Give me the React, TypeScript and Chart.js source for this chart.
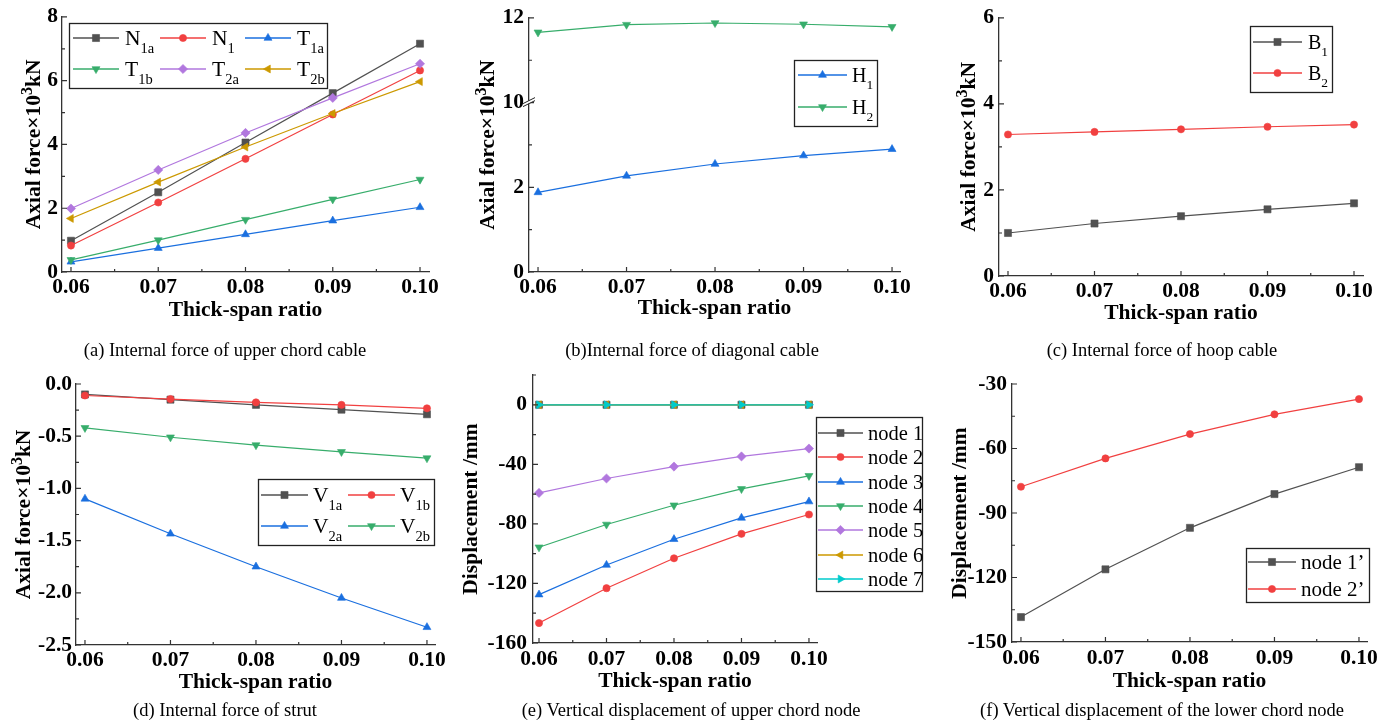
import React, { useEffect, useRef } from 'react';
import { Chart, registerables } from 'chart.js';
import { drawPoint } from 'chart.js/helpers';

Chart.register(...registerables);

const FONT = '"Liberation Serif", "Times New Roman", Times, serif';
const AXIS_COLOR = '#333333';
const W_PAGE = 1393;
const H_PAGE = 725;
const TITLE_FS = 21.5;
const TICK_FS = 21.5;

// ---------- data ----------
const thickSpanRatio = [0.06, 0.07, 0.08, 0.09, 0.1];
const xTickValues = [0.06, 0.07, 0.08, 0.09, 0.1];
const xTickLabels = ['0.06', '0.07', '0.08', '0.09', '0.10'];
const xMinorTicks = [0.065, 0.075, 0.085, 0.095];

// (a) upper chord cable, x10^3 kN
const N1a = [0.98, 2.5, 4.06, 5.61, 7.16];
const N1 = [0.83, 2.18, 3.55, 4.94, 6.32];
const T1a = [0.32, 0.75, 1.18, 1.61, 2.03];
const T1b = [0.38, 1.0, 1.64, 2.28, 2.9];
const T2a = [1.99, 3.2, 4.36, 5.46, 6.53];
const T2b = [1.68, 2.82, 3.92, 4.97, 5.97];
const yTicksA = [0, 2, 4, 6, 8];
const yTickLabelsA = ['0', '2', '4', '6', '8'];

// (b) diagonal cable (broken axis 4..10)
const H1 = [1.88, 2.27, 2.55, 2.75, 2.9];
const H2 = [11.66, 11.84, 11.88, 11.85, 11.79];
const yTickValuesB = [0, 2, 10, 12];
const yTickLabelsB = ['0', '2', '10', '12'];
const yMinorValuesB = [1, 3, 11];
const breakLow = 4;
const breakHigh = 10;

// (c) hoop cable
const B1 = [1.0, 1.22, 1.39, 1.55, 1.69];
const B2 = [3.29, 3.35, 3.41, 3.47, 3.52];
const yTicksC = [0, 2, 4, 6];
const yTickLabelsC = ['0', '2', '4', '6'];

// (d) strut
const V1a = [-0.1, -0.15, -0.2, -0.246, -0.29];
const V1b = [-0.11, -0.144, -0.176, -0.2, -0.233];
const V2a = [-1.1, -1.435, -1.75, -2.05, -2.33];
const V2b = [-0.42, -0.51, -0.585, -0.65, -0.71];
const yTicksD = [0, -0.5, -1, -1.5, -2, -2.5];
const yTickLabelsD = ['0.0', '-0.5', '-1.0', '-1.5', '-2.0', '-2.5'];

// (e) upper chord node displacement, mm
const node1 = [0, 0, 0, 0, 0];
const node2 = [-146.6, -123.2, -103.1, -86.7, -73.7];
const node3 = [-127.5, -107.6, -90.3, -76.0, -65.0];
const node4 = [-95.7, -80.4, -67.5, -56.5, -47.7];
const node5 = [-59.2, -49.5, -41.5, -34.7, -29.4];
const node6 = [0, 0, 0, 0, 0];
const node7 = [0, 0, 0, 0, 0];
const yTicksE = [0, -40, -80, -120, -160];
const yTickLabelsE = ['0', '-40', '-80', '-120', '-160'];

// (f) lower chord node displacement, mm
const node1p = [-138.4, -116.2, -96.9, -81.2, -68.7];
const node2p = [-77.8, -64.6, -53.3, -44.1, -37.0];
const yTicksF = [-30, -60, -90, -120, -150];
const yTickLabelsF = ['-30', '-60', '-90', '-120', '-150'];

// axis titles (segments: [text, superscript?])
const forceTitle: [string, boolean][] = [['Axial force×10', false], ['3', true], ['kN', false]];
const dispTitle: [string, boolean][] = [['Displacement /mm', false]];

// ---------- styles ----------
const C = {
  grey: '#515151',
  red: '#F14040',
  blue: '#1A6FDF',
  green: '#37AD6B',
  purple: '#B177DE',
  gold: '#CC9900',
  cyan: '#00CBCC',
};

type Mk = { style: string; rot: number; r: number };
const SQ: Mk = { style: 'rect', rot: 0, r: 5 };
const CI: Mk = { style: 'circle', rot: 0, r: 3.6 };
const UP: Mk = { style: 'triangle', rot: 0, r: 4.6 };
const DN: Mk = { style: 'triangle', rot: 180, r: 4.6 };
const DI: Mk = { style: 'rectRot', rot: 0, r: 4.6 };
const LT: Mk = { style: 'triangle', rot: -90, r: 4.6 };
const RT: Mk = { style: 'triangle', rot: 90, r: 4.6 };

interface Series { name: string; sub: string; data: number[]; color: string; mk: Mk }
interface LegendCfg { box: [number, number, number, number]; pos: [number, number][]; line: number; gap: number; fs: number; subFs: number }
interface PanelCfg {
  plot: { l: number; t: number; r: number; b: number };
  xMin: number; xMax: number; yMin: number; yMax: number;
  yTicks: number[]; yTickLabels: string[]; yMinor: number[];
  yTitle: [string, boolean][]; yTitleX: number; xTitleY: number; xLabelPad: number; yLabelPad: number;
  series: Series[];
  mapY?: (v: number) => number;
  breakAt?: number;
  legend: LegendCfg;
}

const mapBreak = (v: number) => (v <= breakLow ? v : v - (breakHigh - breakLow));
const minors = (ticks: number[]) => {
  const s = [...ticks].sort((a, b) => a - b);
  const out: number[] = [];
  for (let i = 0; i < s.length - 1; i++) out.push((s[i] + s[i + 1]) / 2);
  return out;
};

const panels: PanelCfg[] = [
  {
    plot: { l: 62, t: 15, r: 429, b: 272 },
    xMin: 0.05897, xMax: 0.10103, yMin: 0, yMax: 8,
    yTicks: yTicksA, yTickLabels: yTickLabelsA, yMinor: minors(yTicksA),
    yTitle: forceTitle, yTitleX: 33, xTitleY: 310, xLabelPad: 3, yLabelPad: 4,
    series: [
      { name: 'N', sub: '1a', data: N1a, color: C.grey, mk: SQ },
      { name: 'N', sub: '1', data: N1, color: C.red, mk: CI },
      { name: 'T', sub: '1a', data: T1a, color: C.blue, mk: UP },
      { name: 'T', sub: '1b', data: T1b, color: C.green, mk: DN },
      { name: 'T', sub: '2a', data: T2a, color: C.purple, mk: DI },
      { name: 'T', sub: '2b', data: T2b, color: C.gold, mk: LT },
    ],
    legend: {
      box: [69, 23, 259, 66],
      pos: [[73, 38], [160, 38], [245, 38], [73, 69], [160, 69], [245, 69]],
      line: 46, gap: 6, fs: 21.5, subFs: 14.5,
    },
  },
  {
    plot: { l: 529, t: 14, r: 900, b: 272 },
    xMin: 0.05898, xMax: 0.1009, yMin: 0, yMax: mapBreak(12),
    yTicks: yTickValuesB.map(mapBreak), yTickLabels: yTickLabelsB, yMinor: yMinorValuesB.map(mapBreak),
    yTitle: forceTitle, yTitleX: 487, xTitleY: 308, xLabelPad: 3, yLabelPad: 5,
    series: [
      { name: 'H', sub: '1', data: H1, color: C.blue, mk: UP },
      { name: 'H', sub: '2', data: H2, color: C.green, mk: DN },
    ],
    mapY: mapBreak,
    breakAt: breakLow,
    legend: { box: [794, 60, 84, 67], pos: [[798, 75], [798, 107]], line: 49, gap: 5, fs: 20, subFs: 13.5 },
  },
  {
    plot: { l: 999, t: 14, r: 1363, b: 276 },
    xMin: 0.05896, xMax: 0.10104, yMin: 0, yMax: 6,
    yTicks: yTicksC, yTickLabels: yTickLabelsC, yMinor: minors(yTicksC),
    yTitle: forceTitle, yTitleX: 968, xTitleY: 313, xLabelPad: 3, yLabelPad: 5,
    series: [
      { name: 'B', sub: '1', data: B1, color: C.grey, mk: SQ },
      { name: 'B', sub: '2', data: B2, color: C.red, mk: CI },
    ],
    legend: { box: [1250, 26, 83, 67], pos: [[1253, 42], [1253, 73]], line: 49, gap: 6, fs: 20, subFs: 13.5 },
  },
  {
    plot: { l: 76, t: 384, r: 435, b: 645 },
    xMin: 0.05895, xMax: 0.10094, yMin: -2.5, yMax: 0,
    yTicks: yTicksD, yTickLabels: yTickLabelsD, yMinor: minors(yTicksD),
    yTitle: forceTitle, yTitleX: 23, xTitleY: 682, xLabelPad: 3, yLabelPad: 4,
    series: [
      { name: 'V', sub: '1a', data: V1a, color: C.grey, mk: SQ },
      { name: 'V', sub: '1b', data: V1b, color: C.red, mk: CI },
      { name: 'V', sub: '2a', data: V2a, color: C.blue, mk: UP },
      { name: 'V', sub: '2b', data: V2b, color: C.green, mk: DN },
    ],
    legend: {
      box: [258, 479, 177, 67],
      pos: [[261, 495], [348, 495], [261, 526], [348, 526]],
      line: 47, gap: 5, fs: 21.5, subFs: 14.5,
    },
  },
  {
    plot: { l: 533, t: 375, r: 817, b: 643 },
    xMin: 0.05911, xMax: 0.10119, yMin: -160, yMax: 20,
    yTicks: yTicksE, yTickLabels: yTickLabelsE, yMinor: [20, -20, -60, -100, -140],
    yTitle: dispTitle, yTitleX: 470, xTitleY: 681, xLabelPad: 4, yLabelPad: 6,
    series: [
      { name: 'node 1', sub: '', data: node1, color: C.grey, mk: SQ },
      { name: 'node 2', sub: '', data: node2, color: C.red, mk: CI },
      { name: 'node 3', sub: '', data: node3, color: C.blue, mk: UP },
      { name: 'node 4', sub: '', data: node4, color: C.green, mk: DN },
      { name: 'node 5', sub: '', data: node5, color: C.purple, mk: DI },
      { name: 'node 6', sub: '', data: node6, color: C.gold, mk: LT },
      { name: 'node 7', sub: '', data: node7, color: C.cyan, mk: RT },
    ],
    legend: {
      box: [816, 417, 107, 175],
      pos: [[818, 433], [818, 457], [818, 482], [818, 506], [818, 530], [818, 555], [818, 579]],
      line: 45, gap: 5, fs: 20.5, subFs: 13,
    },
  },
  {
    plot: { l: 1012, t: 384, r: 1367, b: 642 },
    xMin: 0.05894, xMax: 0.10095, yMin: -150, yMax: -30,
    yTicks: yTicksF, yTickLabels: yTickLabelsF, yMinor: minors(yTicksF),
    yTitle: dispTitle, yTitleX: 959, xTitleY: 681, xLabelPad: 4, yLabelPad: 5,
    series: [
      { name: 'node 1’', sub: '', data: node1p, color: C.grey, mk: SQ },
      { name: 'node 2’', sub: '', data: node2p, color: C.red, mk: CI },
    ],
    legend: { box: [1246, 548, 124, 55], pos: [[1248, 562], [1248, 589]], line: 48, gap: 5, fs: 21, subFs: 13 },
  },
];

const captions = [
  { text: '(a) Internal force of upper chord cable', x: 225, y: 350 },
  { text: '(b)Internal force of diagonal cable', x: 692, y: 350 },
  { text: '(c) Internal force of hoop cable', x: 1162, y: 350 },
  { text: '(d) Internal force of strut', x: 225, y: 710 },
  { text: '(e) Vertical displacement of upper chord node', x: 691, y: 710 },
  { text: '(f) Vertical displacement of the lower chord node', x: 1162, y: 710 },
];

function decorPlugin(cfg: PanelCfg) {
  return {
    id: 'decor',
    afterDraw(chart: any) {
      const ctx: CanvasRenderingContext2D = chart.ctx;
      const xs = chart.scales.x;
      const ys = chart.scales.y;
      const { left, bottom, top } = chart.chartArea;
      ctx.save();
      // inward ticks
      ctx.strokeStyle = AXIS_COLOR;
      ctx.lineWidth = 1.2;
      ctx.beginPath();
      xTickValues.forEach((v) => {
        const p = xs.getPixelForValue(v);
        ctx.moveTo(p, bottom);
        ctx.lineTo(p, bottom - 5);
      });
      xMinorTicks.forEach((v) => {
        const p = xs.getPixelForValue(v);
        ctx.moveTo(p, bottom);
        ctx.lineTo(p, bottom - 3);
      });
      cfg.yTicks.forEach((v) => {
        const p = ys.getPixelForValue(v);
        ctx.moveTo(left, p);
        ctx.lineTo(left + 5, p);
      });
      cfg.yMinor.forEach((v) => {
        const p = ys.getPixelForValue(v);
        ctx.moveTo(left, p);
        ctx.lineTo(left + 3, p);
      });
      ctx.stroke();

      // axis break
      if (cfg.breakAt !== undefined) {
        const y = ys.getPixelForValue(cfg.breakAt);
        ctx.fillStyle = '#ffffff';
        ctx.beginPath();
        ctx.moveTo(left - 6, y + 4);
        ctx.lineTo(left + 6, y - 2);
        ctx.lineTo(left + 6, y - 5);
        ctx.lineTo(left - 6, y + 1);
        ctx.closePath();
        ctx.fill();
        ctx.beginPath();
        ctx.moveTo(left - 6, y + 4);
        ctx.lineTo(left + 6, y - 2);
        ctx.moveTo(left - 6, y + 1);
        ctx.lineTo(left + 6, y - 5);
        ctx.strokeStyle = '#222';
        ctx.lineWidth = 1;
        ctx.stroke();
      }

      // y-axis title with superscript
      {
        const fs = TITLE_FS;
        const supFs = 16;
        const mainFont = `bold ${fs}px ${FONT}`;
        const supFont = `bold ${supFs}px ${FONT}`;
        ctx.save();
        ctx.translate(cfg.yTitleX, (top + bottom) / 2);
        ctx.rotate(-Math.PI / 2);
        ctx.fillStyle = '#000';
        ctx.textAlign = 'left';
        ctx.textBaseline = 'alphabetic';
        let total = 0;
        cfg.yTitle.forEach(([t, sup]) => {
          ctx.font = sup ? supFont : mainFont;
          total += ctx.measureText(t).width;
        });
        let x = -total / 2;
        const base = fs * 0.34;
        cfg.yTitle.forEach(([t, sup]) => {
          ctx.font = sup ? supFont : mainFont;
          ctx.fillText(t, x, sup ? base - fs * 0.38 : base);
          x += ctx.measureText(t).width;
        });
        ctx.restore();
      }

      // legend
      const lg = cfg.legend;
      const [bx, by, bw, bh] = lg.box;
      ctx.fillStyle = '#ffffff';
      ctx.fillRect(bx, by, bw, bh);
      ctx.strokeStyle = '#222';
      ctx.lineWidth = 1.3;
      ctx.strokeRect(bx + 0.5, by + 0.5, bw - 1, bh - 1);
      cfg.series.forEach((s, i) => {
        const [ix, iy] = lg.pos[i];
        ctx.strokeStyle = s.color;
        ctx.lineWidth = 1.3;
        ctx.beginPath();
        ctx.moveTo(ix, iy);
        ctx.lineTo(ix + lg.line, iy);
        ctx.stroke();
        ctx.fillStyle = s.color;
        ctx.strokeStyle = s.color;
        ctx.lineWidth = 0.6;
        drawPoint(ctx, { pointStyle: s.mk.style as any, rotation: s.mk.rot, radius: s.mk.r, borderWidth: 0.6 } as any, ix + lg.line / 2, iy);
        ctx.fillStyle = '#000';
        ctx.textBaseline = 'alphabetic';
        ctx.textAlign = 'left';
        ctx.font = `${lg.fs}px ${FONT}`;
        const tx = ix + lg.line + lg.gap;
        const base = iy + lg.fs * 0.33;
        ctx.fillText(s.name, tx, base);
        if (s.sub) {
          const w = ctx.measureText(s.name).width;
          ctx.font = `${lg.subFs}px ${FONT}`;
          ctx.fillText(s.sub, tx + w, base + lg.fs * 0.38);
        }
      });
      ctx.restore();
    },
  };
}

function buildConfig(cfg: PanelCfg): any {
  const lh = TITLE_FS * 1.2;
  const padLeft = cfg.yTitleX - lh / 2;
  const yW = cfg.plot.l - padLeft;
  const xH = cfg.xTitleY - cfg.plot.b + lh / 2;
  const mapY = cfg.mapY || ((v: number) => v);
  const n = cfg.series.length;
  return {
    type: 'line',
    data: {
      datasets: cfg.series.map((s, i) => ({
        label: s.name + s.sub,
        data: thickSpanRatio.map((x, k) => ({ x, y: mapY(s.data[k]) })),
        borderColor: s.color,
        backgroundColor: s.color,
        borderWidth: 1.2,
        pointStyle: s.mk.style,
        pointRotation: s.mk.rot,
        pointRadius: s.mk.r,
        pointBackgroundColor: s.color,
        pointBorderColor: s.color,
        pointBorderWidth: 0.6,
        tension: 0,
        fill: false,
        order: n - i,
      })),
    },
    options: {
      animation: false,
      responsive: false,
      events: [],
      layout: {
        padding: {
          left: padLeft,
          top: cfg.plot.t,
          right: W_PAGE - cfg.plot.r,
          bottom: H_PAGE - cfg.plot.b - xH,
        },
      },
      plugins: { legend: { display: false }, tooltip: { enabled: false } },
      scales: {
        x: {
          type: 'linear',
          position: 'bottom',
          min: cfg.xMin,
          max: cfg.xMax,
          afterBuildTicks: (s: any) => {
            s.ticks = xTickValues.map((v) => ({ value: v }));
          },
          afterFit: (s: any) => {
            s.height = xH;
          },
          ticks: {
            autoSkip: false,
            maxRotation: 0,
            padding: cfg.xLabelPad,
            color: '#000',
            font: { family: FONT, size: TICK_FS, weight: 'bold' },
            callback: (_v: any, i: number) => xTickLabels[i],
          },
          grid: { display: false, drawTicks: false },
          border: { display: true, color: AXIS_COLOR, width: 1.3 },
          title: {
            display: true,
            text: 'Thick-span ratio',
            color: '#000',
            padding: 0,
            font: { family: FONT, size: TITLE_FS, weight: 'bold' },
          },
        },
        y: {
          type: 'linear',
          position: 'left',
          min: cfg.yMin,
          max: cfg.yMax,
          afterBuildTicks: (s: any) => {
            s.ticks = cfg.yTicks.map((v) => ({ value: v }));
          },
          afterFit: (s: any) => {
            s.width = yW;
          },
          ticks: {
            autoSkip: false,
            padding: cfg.yLabelPad,
            color: '#000',
            font: { family: FONT, size: TICK_FS, weight: 'bold' },
            callback: (_v: any, i: number) => cfg.yTickLabels[i],
          },
          grid: { display: false, drawTicks: false },
          border: { display: true, color: AXIS_COLOR, width: 1.3 },
          title: { display: false },
        },
      },
    },
    plugins: [decorPlugin(cfg)],
  };
}

function Panel({ cfg }: { cfg: PanelCfg }) {
  const ref = useRef<HTMLCanvasElement>(null);
  useEffect(() => {
    const chart = new Chart(ref.current as HTMLCanvasElement, buildConfig(cfg));
    return () => chart.destroy();
  }, [cfg]);
  return (
    <canvas
      ref={ref}
      width={W_PAGE}
      height={H_PAGE}
      style={{ position: 'absolute', left: 0, top: 0, width: W_PAGE, height: H_PAGE, pointerEvents: 'none' }}
    />
  );
}

export default function App() {
  return (
    <div style={{ position: 'absolute', left: 0, top: 0, width: W_PAGE, height: H_PAGE, background: '#fff', overflow: 'hidden' }}>
      {panels.map((p, i) => (
        <Panel key={i} cfg={p} />
      ))}
      {captions.map((c, i) => (
        <div
          key={'c' + i}
          style={{
            position: 'absolute',
            left: c.x,
            top: c.y - 11,
            transform: 'translateX(-50%)',
            whiteSpace: 'nowrap',
            fontFamily: FONT,
            fontSize: 18.5,
            lineHeight: '22px',
            color: '#000',
          }}
        >
          {c.text}
        </div>
      ))}
    </div>
  );
}
